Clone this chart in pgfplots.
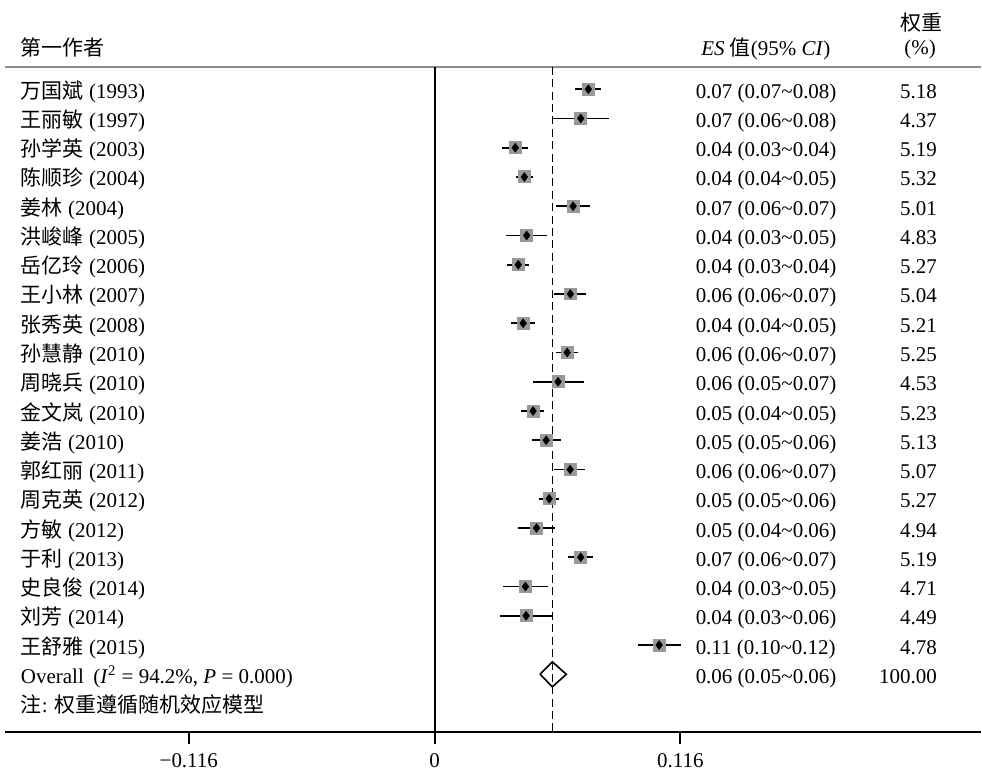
\documentclass[border=0pt]{standalone}
\usepackage{pgfplots}
\pgfplotsset{compat=1.18}
\usepackage{pgfplotstable}
\usepackage{fontspec}
\setmainfont{Liberation Serif}
\newfontfamily\cjk{Noto Sans CJK SC}
\newcommand\ti{\textasciitilde}

\pgfplotstableread{
row es lo hi
-1 0.0726 0.0665 0.0786
-2 0.0690 0.0558 0.0824
-3 0.0381 0.0319 0.0440
-4 0.0424 0.0384 0.0465
-5 0.0654 0.0575 0.0734
-6 0.0435 0.0339 0.0531
-7 0.0395 0.0344 0.0445
-8 0.0641 0.0563 0.0715
-9 0.0418 0.0360 0.0473
-10 0.0626 0.0575 0.0677
-11 0.0583 0.0464 0.0704
-12 0.0465 0.0409 0.0517
-13 0.0527 0.0461 0.0596
-14 0.0640 0.0565 0.0711
-15 0.0541 0.0492 0.0589
-16 0.0481 0.0396 0.0567
-17 0.0690 0.0632 0.0750
-18 0.0429 0.0322 0.0536
-19 0.0432 0.0307 0.0555
-20 0.1060 0.0961 0.1163
}\studies

\tikzset{
 L/.style={inner sep=0pt, anchor=base west, yshift=-4.5pt},
 R/.style={inner sep=0pt, anchor=base east, yshift=-4.5pt},
 H/.style={inner sep=0pt, anchor=base west},
 HC/.style={inner sep=0pt, anchor=base},
}

\begin{document}
\fontsize{10.5}{12.6}\selectfont
\begin{tikzpicture}
\begin{axis}[
 width=488.5pt, height=333pt, scale only axis,
 xmin=-0.20276, xmax=0.25793, ymin=-22.98, ymax=-0.238,
 axis x line*=bottom, axis y line=none,
 x axis line style={-, line width=1pt},
 xtick={-0.116,0,0.116}, xticklabels={−0.116,0,0.116},
 major tick length=6pt, tick align=outside,
 tick style={line width=1pt, black},
 xticklabel style={yshift=-1pt},
 ytick=\empty,
 clip=false,
]
% bounding frame of the whole picture
\path (axis cs:-0.20512,2.0499) rectangle (axis cs:0.25793,-24.384);
% header rule
\draw[black!45, line width=0.6pt] (rel axis cs:0,1) -- (rel axis cs:1,1);
% zero line
\draw[line width=1pt] (axis cs:0,-0.238) -- (axis cs:0,-22.98);
% overall dashed line
\addplot[black, line width=0.6pt, dash pattern=on 4pt off 2.2pt] coordinates {(0.0556,-0.238) (0.0556,-22.98)};
% CIs
\addplot[only marks, mark=none,
  error bars/.cd, x dir=both, x explicit, error mark=none,
  error bar style={line width=0.95pt, black}]
  table[x=es, y=row, x error plus expr=\thisrow{hi}-\thisrow{es}, x error minus expr=\thisrow{es}-\thisrow{lo}] {\studies};
% grey weight squares
\addplot[only marks, mark=square*, mark size=3pt, mark options={fill=black!40, draw=black!40, line width=0pt}] table[x=es, y=row] {\studies};
% point estimates
\addplot[only marks, mark=diamond*, mark size=2.1pt, mark options={fill=black, draw=black}] table[x=es, y=row] {\studies};
% overall diamond
\addplot[black, line width=0.8pt, line join=miter] coordinates {(0.0498,-21) (0.0556,-20.573) (0.0622,-21) (0.0556,-21.427) (0.0498,-21)};

% headers
\node[H] at (axis cs:-0.1954,0.137) {\cjk 第一作者};
\node[H] at (axis cs:0.12576,0.137) {\textit{ES} {\cjk 值}(95\% \textit{CI})};
\node[HC] at (axis cs:0.22964,1.008) {\cjk 权重};
\node[HC] at (axis cs:0.22917,0.18) {(\%)};

% study labels
\node[L] at (axis cs:-0.1954,-1) {{\cjk 万国斌} (1993)};
\node[L] at (axis cs:-0.1954,-2) {{\cjk 王丽敏} (1997)};
\node[L] at (axis cs:-0.1954,-3) {{\cjk 孙学英} (2003)};
\node[L] at (axis cs:-0.1954,-4) {{\cjk 陈顺珍} (2004)};
\node[L] at (axis cs:-0.1954,-5) {{\cjk 姜林} (2004)};
\node[L] at (axis cs:-0.1954,-6) {{\cjk 洪峻峰} (2005)};
\node[L] at (axis cs:-0.1954,-7) {{\cjk 岳亿玲} (2006)};
\node[L] at (axis cs:-0.1954,-8) {{\cjk 王小林} (2007)};
\node[L] at (axis cs:-0.1954,-9) {{\cjk 张秀英} (2008)};
\node[L] at (axis cs:-0.1954,-10) {{\cjk 孙慧静} (2010)};
\node[L] at (axis cs:-0.1954,-11) {{\cjk 周晓兵} (2010)};
\node[L] at (axis cs:-0.1954,-12) {{\cjk 金文岚} (2010)};
\node[L] at (axis cs:-0.1954,-13) {{\cjk 姜浩} (2010)};
\node[L] at (axis cs:-0.1954,-14) {{\cjk 郭红丽} (2011)};
\node[L] at (axis cs:-0.1954,-15) {{\cjk 周克英} (2012)};
\node[L] at (axis cs:-0.1954,-16) {{\cjk 方敏} (2012)};
\node[L] at (axis cs:-0.1954,-17) {{\cjk 于利} (2013)};
\node[L] at (axis cs:-0.1954,-18) {{\cjk 史良俊} (2014)};
\node[L] at (axis cs:-0.1954,-19) {{\cjk 刘芳} (2014)};
\node[L] at (axis cs:-0.1954,-20) {{\cjk 王舒雅} (2015)};
\node[L] at (axis cs:-0.1954,-21) {Overall\hspace{0.45em}(\textit{I}\textsuperscript{2} = 94.2\%, \textit{P} = 0.000)};
\node[L] at (axis cs:-0.1954,-22) {{\cjk 注}: {\cjk 权重遵循随机效应模型}};

% ES column
\node[L] at (axis cs:0.1231,-1) {0.07 (0.07\ti0.08)};
\node[L] at (axis cs:0.1231,-2) {0.07 (0.06\ti0.08)};
\node[L] at (axis cs:0.1231,-3) {0.04 (0.03\ti0.04)};
\node[L] at (axis cs:0.1231,-4) {0.04 (0.04\ti0.05)};
\node[L] at (axis cs:0.1231,-5) {0.07 (0.06\ti0.07)};
\node[L] at (axis cs:0.1231,-6) {0.04 (0.03\ti0.05)};
\node[L] at (axis cs:0.1231,-7) {0.04 (0.03\ti0.04)};
\node[L] at (axis cs:0.1231,-8) {0.06 (0.06\ti0.07)};
\node[L] at (axis cs:0.1231,-9) {0.04 (0.04\ti0.05)};
\node[L] at (axis cs:0.1231,-10) {0.06 (0.06\ti0.07)};
\node[L] at (axis cs:0.1231,-11) {0.06 (0.05\ti0.07)};
\node[L] at (axis cs:0.1231,-12) {0.05 (0.04\ti0.05)};
\node[L] at (axis cs:0.1231,-13) {0.05 (0.05\ti0.06)};
\node[L] at (axis cs:0.1231,-14) {0.06 (0.06\ti0.07)};
\node[L] at (axis cs:0.1231,-15) {0.05 (0.05\ti0.06)};
\node[L] at (axis cs:0.1231,-16) {0.05 (0.04\ti0.06)};
\node[L] at (axis cs:0.1231,-17) {0.07 (0.06\ti0.07)};
\node[L] at (axis cs:0.1231,-18) {0.04 (0.03\ti0.05)};
\node[L] at (axis cs:0.1231,-19) {0.04 (0.03\ti0.06)};
\node[L] at (axis cs:0.1231,-20) {0.11 (0.10\ti0.12)};
\node[L] at (axis cs:0.1231,-21) {0.06 (0.05\ti0.06)};

% weight column
\node[R] at (axis cs:0.2373,-1) {5.18};
\node[R] at (axis cs:0.2373,-2) {4.37};
\node[R] at (axis cs:0.2373,-3) {5.19};
\node[R] at (axis cs:0.2373,-4) {5.32};
\node[R] at (axis cs:0.2373,-5) {5.01};
\node[R] at (axis cs:0.2373,-6) {4.83};
\node[R] at (axis cs:0.2373,-7) {5.27};
\node[R] at (axis cs:0.2373,-8) {5.04};
\node[R] at (axis cs:0.2373,-9) {5.21};
\node[R] at (axis cs:0.2373,-10) {5.25};
\node[R] at (axis cs:0.2373,-11) {4.53};
\node[R] at (axis cs:0.2373,-12) {5.23};
\node[R] at (axis cs:0.2373,-13) {5.13};
\node[R] at (axis cs:0.2373,-14) {5.07};
\node[R] at (axis cs:0.2373,-15) {5.27};
\node[R] at (axis cs:0.2373,-16) {4.94};
\node[R] at (axis cs:0.2373,-17) {5.19};
\node[R] at (axis cs:0.2373,-18) {4.71};
\node[R] at (axis cs:0.2373,-19) {4.49};
\node[R] at (axis cs:0.2373,-20) {4.78};
\node[R] at (axis cs:0.2373,-21) {100.00};
\end{axis}
\end{tikzpicture}
\end{document}
